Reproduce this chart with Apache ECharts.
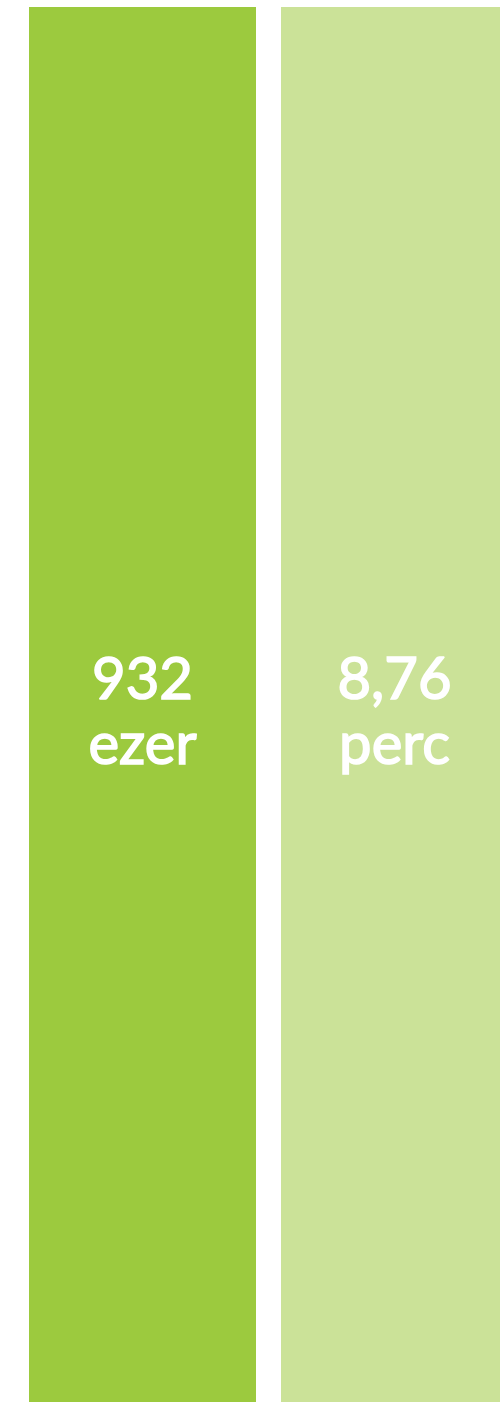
<!DOCTYPE html>
<html>
<head>
<meta charset="utf-8">
<script src="https://cdn.jsdelivr.net/npm/echarts@6/dist/echarts.min.js"></script>
<style>
html,body{margin:0;padding:0;background:#fff;}
#chart{width:500px;height:1402px;}
</style>
</head>
<body>
<div id="chart"></div>
<script>
// Data
var categories = ['Nézők', 'Nézési idő'];
var shares = [100, 100];
var labelValues = ['932', '8,76'];
var labelUnits = ['ezer', 'perc'];
var colors = ['#9CCA3E', '#CBE298'];

var chart = echarts.init(document.getElementById('chart'));
chart.setOption({
  animation: false,
  grid: { left: 16.5, top: 7, bottom: 0, right: -20.5, containLabel: false, outerBoundsMode: 'none' },
  xAxis: {
    type: 'category',
    data: categories,
    show: false
  },
  yAxis: {
    type: 'value',
    min: 0,
    max: 100,
    show: false
  },
  series: [{
    type: 'bar',
    barWidth: 227,
    data: shares.map(function (v, i) {
      return { value: v, itemStyle: { color: colors[i] } };
    }),
    label: {
      show: true,
      position: 'inside',
      color: '#ffffff',
      fontFamily: 'Lato',
      fontWeight: 'normal',
      fontSize: 58,
      lineHeight: 65,
      offset: [0, 8],
      textBorderColor: '#ffffff',
      textBorderWidth: 1.6,
      formatter: function (p) {
        return labelValues[p.dataIndex] + '\n' + labelUnits[p.dataIndex];
      }
    }
  }]
});
</script>
</body>
</html>
